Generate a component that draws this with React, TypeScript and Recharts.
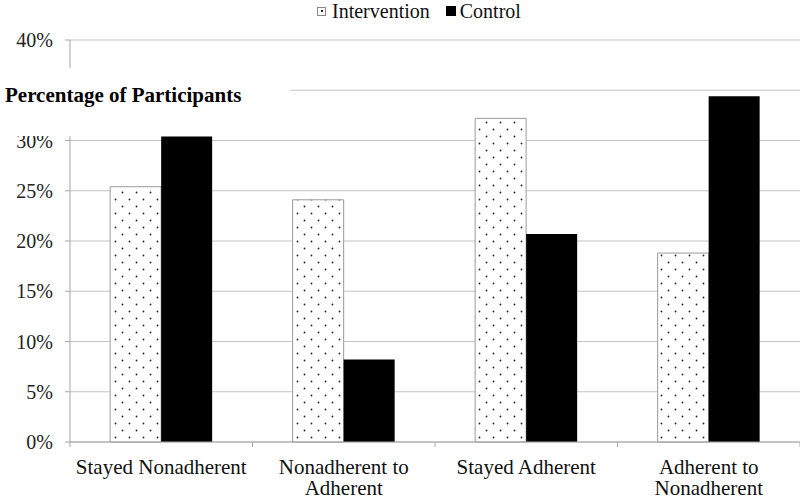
import React from 'react';
import { BarChart, Bar, XAxis, YAxis, CartesianGrid, Legend } from 'recharts';

const categories = ['Stayed Nonadherent', 'Nonadherent to Adherent', 'Stayed Adherent', 'Adherent to Nonadherent'];
const interventionValues = [25.4, 24.1, 32.2, 18.8];
const controlValues = [30.4, 8.2, 20.7, 34.4];
const yTicks = [0, 5, 10, 15, 20, 25, 30, 35, 40];
const seriesNames = ['Intervention', 'Control'];
const yTitle = 'Percentage of Participants';

const data = categories.map((c, i) => ({
  category: c,
  intervention: interventionValues[i],
  control: controlValues[i],
}));

const FONT = '"Liberation Serif", "Times New Roman", Times, serif';
const AXIS = '#a6a6a6';
const GRID = '#c4c4c4';

let measureCtx: CanvasRenderingContext2D | null = null;
function measure(text: string, font: string): number {
  if (!measureCtx) {
    const c = document.createElement('canvas');
    measureCtx = c.getContext('2d');
  }
  if (!measureCtx) return text.length * 9;
  measureCtx.font = font;
  return measureCtx.measureText(text).width;
}

function wrap(text: string, maxWidth: number, font: string): string[] {
  const words = text.split(' ');
  const lines: string[] = [];
  let cur = '';
  words.forEach((w) => {
    const cand = cur ? cur + ' ' + w : w;
    if (cur && measure(cand, font) > maxWidth) {
      lines.push(cur);
      cur = w;
    } else {
      cur = cand;
    }
  });
  if (cur) lines.push(cur);
  return lines;
}

function XTick(props: any) {
  const { x, y, payload, index, visibleTicksCount, width } = props;
  const count = visibleTicksCount || categories.length;
  const half = payload && typeof payload.offset === 'number' && payload.offset > 0
    ? payload.offset
    : (width || 730) / count / 2;
  const isLast = index === count - 1;
  const lines = wrap(String(payload.value), 178, `21px ${FONT}`);
  return (
    <g>
      <line x1={x - half} x2={x - half} y1={y} y2={y + 5} stroke={AXIS} />
      {isLast && <line x1={x + half} x2={x + half} y1={y} y2={y + 5} stroke={AXIS} />}
      <text x={x} y={y + 32} textAnchor="middle" fontSize={21} fontFamily={FONT} fill="#111">
        {lines.map((l, i) => (
          <tspan key={i} x={x} dy={i === 0 ? 0 : 21}>{l}</tspan>
        ))}
      </text>
    </g>
  );
}

function YTick(props: any) {
  const { x, y, payload } = props;
  return (
    <text x={x} y={y} dy={7} textAnchor="end" fontSize={20} fontFamily={FONT} fill="#222">
      {`${payload.value}%`}
    </text>
  );
}

function LegendContent() {
  return (
    <div style={{ width: 800, height: 22, position: 'relative', fontFamily: FONT, fontSize: 20, lineHeight: '20px', color: '#111' }}>
      <div style={{ position: 'absolute', left: 317, top: 1, display: 'flex', alignItems: 'center', height: 20, whiteSpace: 'nowrap' }}>
        <span style={{ display: 'inline-block', width: 7, height: 7, border: '1px solid #888', background: '#fff', position: 'relative', marginRight: 6 }}>
          <span style={{ position: 'absolute', left: 2.5, top: 2.5, width: 2, height: 2, background: '#222' }} />
        </span>
        <span style={{ marginRight: 16, fontFamily: FONT, lineHeight: '20px' }}>{seriesNames[0]}</span>
        <span style={{ display: 'inline-block', width: 10, height: 10, background: '#000', marginRight: 4 }} />
        <span style={{ fontFamily: FONT, lineHeight: '20px' }}>{seriesNames[1]}</span>
      </div>
    </div>
  );
}

export default function App() {
  return (
    <div style={{ position: 'absolute', left: 0, top: 0, width: 800, height: 500, background: '#fff', fontFamily: FONT }}>
      <BarChart
        width={800}
        height={500}
        data={data}
        margin={{ top: 18, right: 0, left: 0, bottom: 0 }}
        barCategoryGap="22%"
        barGap={0}
        style={{ fontFamily: FONT }}
      >
        <defs>
          <pattern id="dots" width="14" height="14" patternUnits="userSpaceOnUse">
            <rect x="0" y="0" width="14" height="14" fill="#ffffff" />
            <circle cx="3.5" cy="3.5" r="0.9" fill="#222" />
            <circle cx="10.5" cy="10.5" r="0.9" fill="#222" />
          </pattern>
        </defs>
        <CartesianGrid vertical={false} stroke={GRID} />
        <XAxis
          dataKey="category"
          height={58}
          tickSize={0}
          tickMargin={0}
          interval={0}
          tick={<XTick />}
          axisLine={{ stroke: AXIS }}
          tickLine={false}
        />
        <YAxis
          width={70}
          domain={[0, 40]}
          ticks={yTicks}
          interval={0}
          tickSize={5}
          tickMargin={12}
          tick={<YTick />}
          axisLine={{ stroke: AXIS }}
          tickLine={{ stroke: AXIS }}
        />
        <Legend verticalAlign="top" content={<LegendContent />} wrapperStyle={{ top: 0, left: 0, width: 800, height: 22 }} />
        <Bar dataKey="intervention" name={seriesNames[0]} fill="url(#dots)" stroke="#9a9a9a" strokeWidth={1} isAnimationActive={false} />
        <Bar dataKey="control" name={seriesNames[1]} fill="#000" isAnimationActive={false} />
      </BarChart>
      <div style={{ position: 'absolute', left: 0, top: 68, width: 290, height: 68, background: '#fff' }}>
        <svg width={290} height={68} style={{ display: 'block' }}>
          <text x={5} y={34} fontSize={21} fontWeight="bold" fontFamily={FONT} fill="#000">{yTitle}</text>
        </svg>
      </div>
    </div>
  );
}
